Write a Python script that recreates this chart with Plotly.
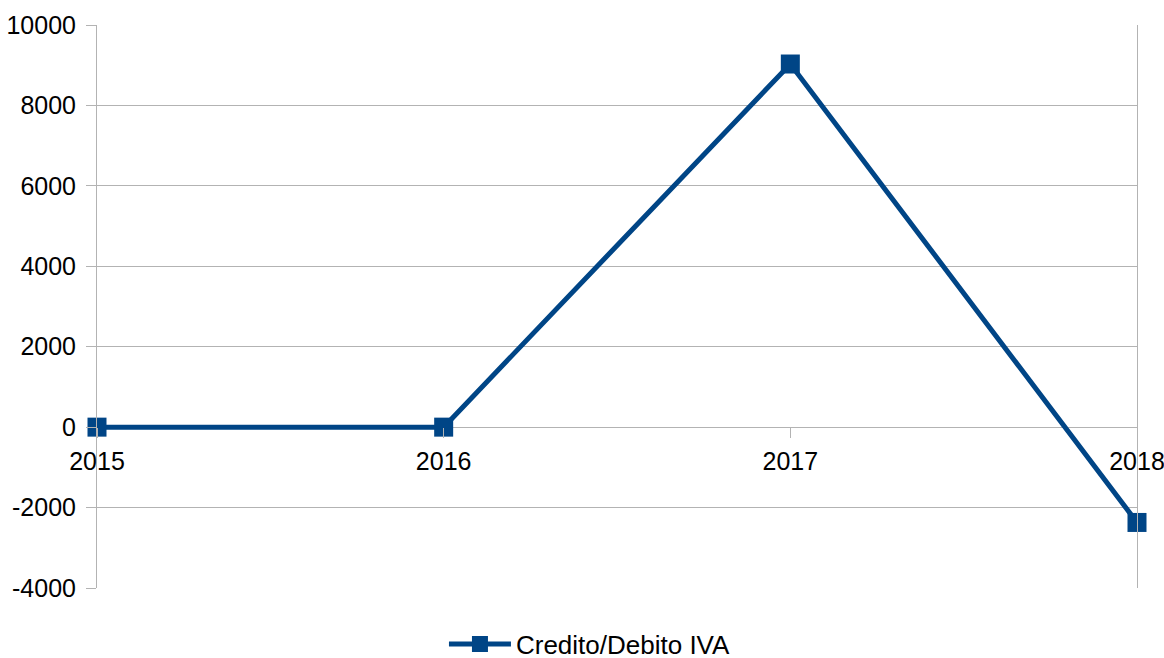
import plotly.graph_objects as go

years = ["2015", "2016", "2017", "2018"]
values = [0, 0, 9030, -2370]
y_ticks = [-4000, -2000, 0, 2000, 4000, 6000, 8000, 10000]
y_tick_labels = ["-4000", "-2000", "0", "2000", "4000", "6000", "8000", "10000"]

color = "#004586"
grid = "#b3b3b3"
font = "Liberation Sans, Arial, sans-serif"
fs = 25

fig = go.Figure()
fig.add_trace(go.Scatter(
    x=years, y=values, mode="lines+markers",
    name="Credito/Debito IVA",
    line=dict(color=color, width=5),
    marker=dict(symbol="square", size=19, color=color),
    cliponaxis=False,
))

ymin, ymax = -4000, 10000
fig.update_layout(
    width=1164, height=658,
    margin=dict(l=97, r=27, t=25, b=70, autoexpand=False),
    paper_bgcolor="white", plot_bgcolor="white",
    font=dict(family=font, size=fs, color="#000000"),
    showlegend=True,
    legend=dict(orientation="h", x=0.474, xanchor="center", y=-0.058, yanchor="top",
                font=dict(size=26), itemwidth=62),
    xaxis=dict(
        type="category", range=[0, 3], anchor="free",
        position=(0 - ymin) / (ymax - ymin), automargin=False,
        showgrid=False, showline=False, zeroline=False,
        ticks="outside", ticklen=10, tickcolor=grid, tickwidth=1,
        ticklabelstandoff=2,
        tickfont=dict(size=fs),
    ),
    yaxis=dict(
        range=[ymin, ymax], tickvals=y_ticks, ticktext=y_tick_labels,
        automargin=False, ticklabelstandoff=5,
        showgrid=True, gridcolor=grid, gridwidth=1,
        zeroline=False, showline=True, linecolor=grid, linewidth=1, mirror=True,
        ticks="outside", ticklen=10, tickcolor=grid,
        tickfont=dict(size=fs),
    ),
)
fig.write_html("out.html", config={"displayModeBar": False},
               post_script="document.body.style.margin='0';")
